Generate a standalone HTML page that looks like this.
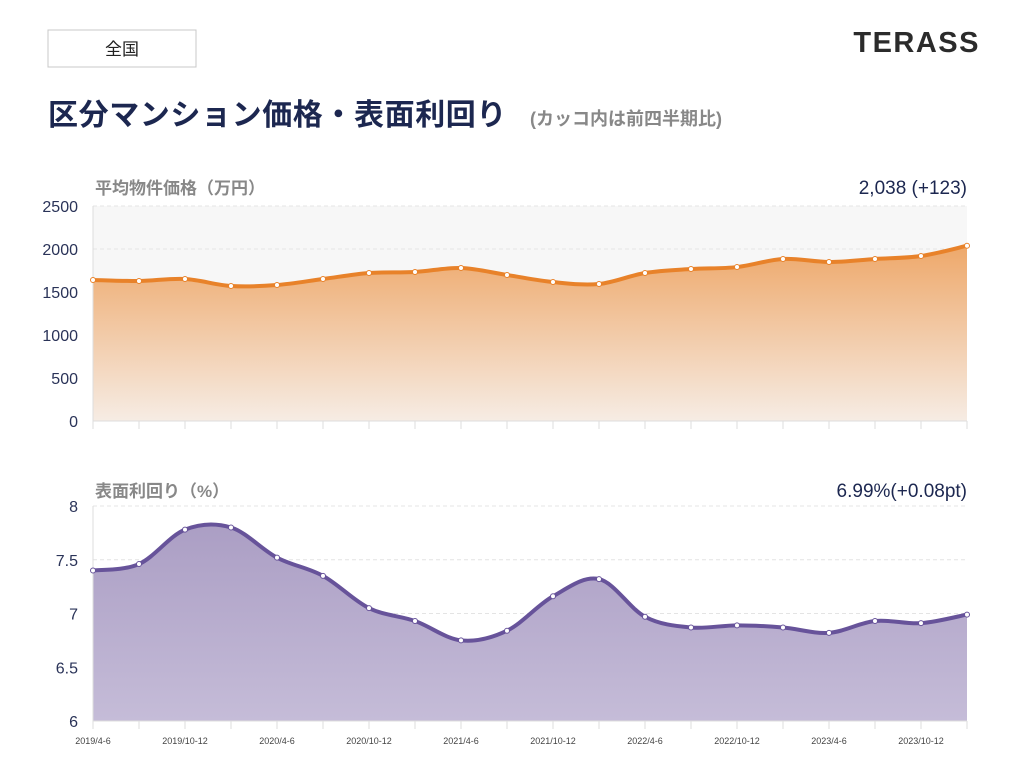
<!DOCTYPE html>
<html><head><meta charset="utf-8"><style>
body{margin:0;width:1014px;height:769px;background:#fff;overflow:hidden;font-family:"Liberation Sans","Noto Sans CJK JP",sans-serif}
</style></head><body>
<svg id="c" width="1014" height="769" xmlns="http://www.w3.org/2000/svg">
<defs>
<linearGradient id="og" x1="0" y1="0" x2="0" y2="1"><stop offset="0" stop-color="#eea86a"/><stop offset="1" stop-color="#f6ece4"/></linearGradient>
<linearGradient id="pg" x1="0" y1="0" x2="0" y2="1"><stop offset="0" stop-color="#ab9ec4"/><stop offset="1" stop-color="#c5bcd8"/></linearGradient>
</defs>
<rect x="48" y="30" width="148" height="37" fill="#fff" stroke="#c8c8c8"/>
<text x="122" y="55" text-anchor="middle" font-size="17" fill="#222">全国</text>
<text x="980" y="52" text-anchor="end" font-size="29" font-weight="bold" fill="#2b2b2b" letter-spacing="1.5">TERASS</text>
<text x="48" y="125" font-size="30" font-weight="bold" fill="#1c2750" letter-spacing="0.6">区分マンション価格・表面利回り</text>
<text x="530" y="125" font-size="18" font-weight="bold" fill="#888">(カッコ内は前四半期比)</text>
<text x="95" y="194" font-size="17" font-weight="bold" fill="#888">平均物件価格（万円）</text>
<text x="967" y="194" text-anchor="end" font-size="19" fill="#1c2750">2,038 (+123)</text>
<text x="95" y="497" font-size="17" font-weight="bold" fill="#888">表面利回り（%）</text>
<text x="967" y="497" text-anchor="end" font-size="19" fill="#1c2750">6.99%(+0.08pt)</text>
<g id="g"></g>
</svg>
<script>
const categories=["2019/4-6","2019/7-9","2019/10-12","2020/1-3","2020/4-6","2020/7-9","2020/10-12","2021/1-3","2021/4-6","2021/7-9","2021/10-12","2022/1-3","2022/4-6","2022/7-9","2022/10-12","2023/1-3","2023/4-6","2023/7-9","2023/10-12","2024/1-3"];
const priceValues=[1640,1628,1651,1570,1581,1651,1721,1733,1779,1698,1616,1593,1721,1767,1790,1884,1849,1884,1919,2038];
const yieldValues=[7.40,7.46,7.78,7.80,7.52,7.35,7.05,6.93,6.75,6.84,7.16,7.32,6.97,6.87,6.89,6.87,6.82,6.93,6.91,6.99];
const priceTicks=[0,500,1000,1500,2000,2500];
const yieldTicks=[6,6.5,7,7.5,8];
const NS="http://www.w3.org/2000/svg",g=document.getElementById('g');
const X0=93,X1=967;
const xs=i=>X0+(X1-X0)*i/(categories.length-1);
function mk(t,a){const e=document.createElementNS(NS,t);for(const k in a)e.setAttribute(k,a[k]);g.appendChild(e);return e;}
function path(pts){let d=`M${pts[0][0]},${pts[0][1]}`;for(let i=0;i<pts.length-1;i++){const p0=pts[i-1]||pts[i],p1=pts[i],p2=pts[i+1],p3=pts[i+2]||p2;const c1=[p1[0]+(p2[0]-p0[0])/6,p1[1]+(p2[1]-p0[1])/6],c2=[p2[0]-(p3[0]-p1[0])/6,p2[1]-(p3[1]-p1[1])/6];d+=`C${c1[0]},${c1[1]} ${c2[0]},${c2[1]} ${p2[0]},${p2[1]}`;}return d;}
function chart(vals,ticks,yTop,yBot,min,max,fill,line,bg,fmt,key,showX){
 const ys=v=>yBot-(v-min)/(max-min)*(yBot-yTop);
 if(bg){const r=mk('rect',{x:X0,y:yTop,width:X1-X0,height:yBot-yTop,fill:bg});}
 ticks.forEach(t=>{const y=ys(t);
  const l=mk('line',{x1:X0,x2:X1,y1:y,y2:y,stroke:'#e4e4e4','stroke-dasharray':'4 3'});
  const tx=mk('text',{x:78,y:y+6,'text-anchor':'end','font-size':16,fill:'#2a3358'});tx.textContent=fmt(t);});
 const pts=vals.map((v,i)=>[xs(i),ys(v)]);
 const d=path(pts);
 const a=mk('path',{d:d+`L${X1},${yBot}L${X0},${yBot}Z`,fill:fill});
 const ax=mk('line',{x1:X0,x2:X1,y1:yBot,y2:yBot,stroke:'#ddd'});
 const ay=mk('line',{x1:X0,x2:X0,y1:yTop,y2:yBot,stroke:'#ddd'});
 categories.forEach((c,i)=>{const t=mk('line',{x1:xs(i),x2:xs(i),y1:yBot,y2:yBot+8,stroke:'#ddd'});
  if(showX&&i%2==0){const tx=mk('text',{x:xs(i),y:yBot+23,'text-anchor':'middle','font-size':9,fill:'#444'});tx.textContent=c;}});
 const ln=mk('path',{d:d,fill:'none',stroke:line,'stroke-width':4});
 pts.forEach(p=>{const c=mk('circle',{cx:p[0],cy:p[1],r:2.5,fill:'#fff',stroke:line,'stroke-width':1});});
}
chart(priceValues,priceTicks,206,421,0,2500,'url(#og)','#e8822a','#f7f7f7',t=>t,'price',false);
chart(yieldValues,yieldTicks,506,721,6,8,'url(#pg)','#67539a',null,t=>t,'yield',true);
</script>
</body></html>
